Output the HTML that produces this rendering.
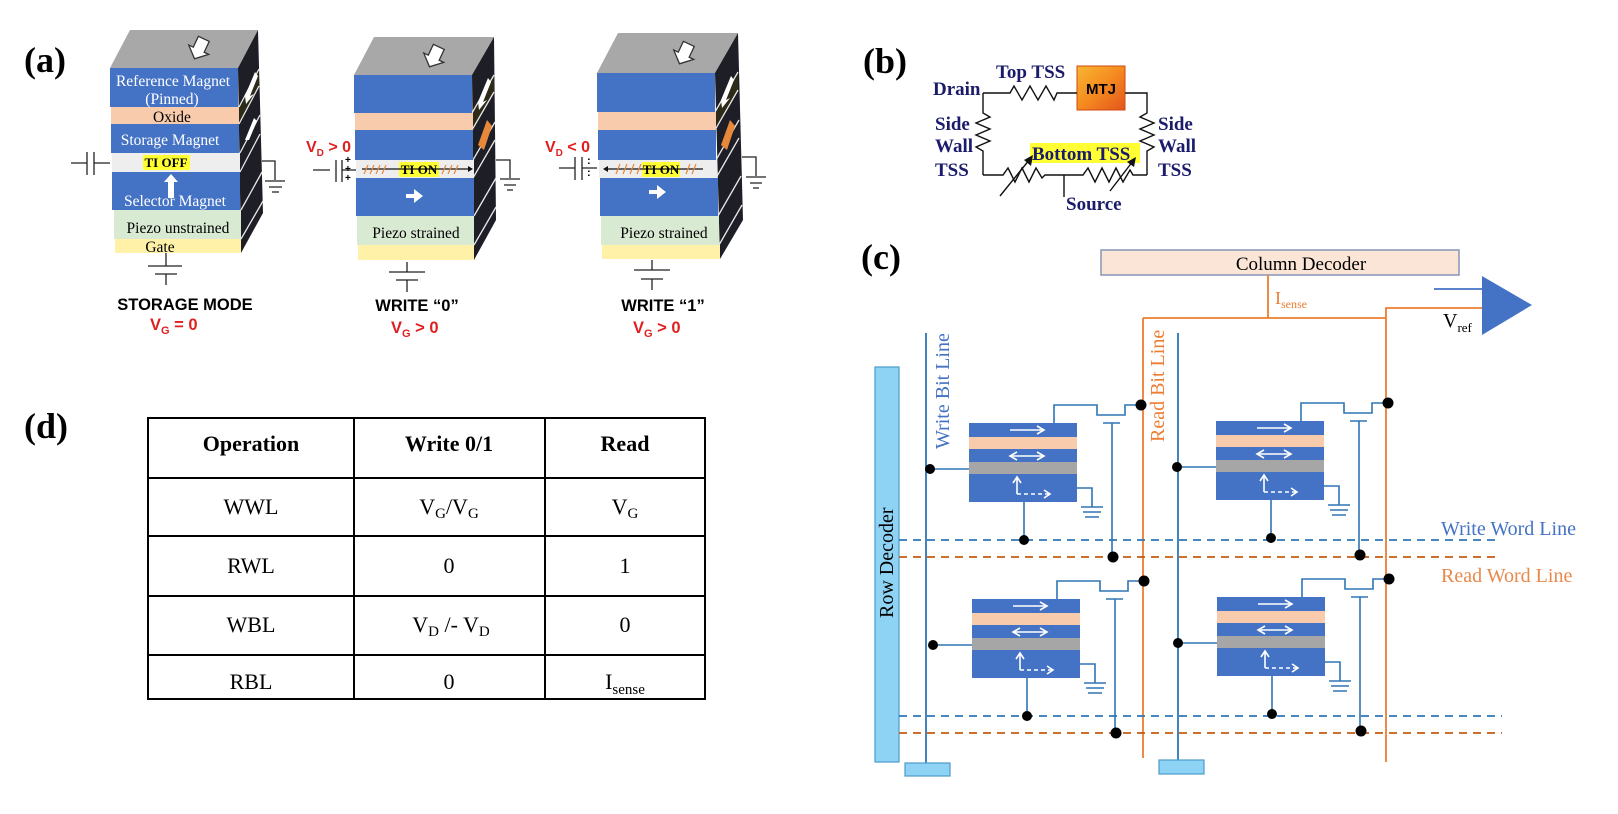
<!DOCTYPE html>
<html><head><meta charset="utf-8"><style>
html,body{margin:0;padding:0;background:#fff;}
svg{display:block;}
.sr{font-family:"Liberation Serif",serif;}
.ss{font-family:"Liberation Sans",sans-serif;}
</style></head><body>
<svg width="1618" height="814" viewBox="0 0 1618 814" xmlns="http://www.w3.org/2000/svg">
<defs>
<g id="harrow"><path d="M-6,-9 L6,-9 L6,3 L11,3 L0,13 L-11,3 L-6,3 Z" fill="#fff" stroke="#333" stroke-width="1.3"/></g>
<linearGradient id="mtj" x1="0" y1="0" x2="1" y2="1"><stop offset="0" stop-color="#f7b733"/><stop offset="0.5" stop-color="#f58a1f"/><stop offset="1" stop-color="#e2551c"/></linearGradient>
<g id="cell">
 <rect x="969" y="423" width="108" height="14" fill="#4472c4"/>
 <rect x="969" y="437" width="108" height="12" fill="#f8cbad"/>
 <rect x="969" y="449" width="108" height="13" fill="#4472c4"/>
 <rect x="969" y="462" width="108" height="12" fill="#a6a6a6"/>
 <rect x="969" y="474" width="108" height="28" fill="#4472c4"/>
 <g stroke="#fff" stroke-width="1.6" fill="none">
  <path d="M1010,430 H1044 M1037,426 L1044,430 L1037,434"/>
  <path d="M1010,456 H1044 M1037,452 L1044,456 L1037,460 M1017,452 L1010,456 L1017,460"/>
  <path d="M1017,494 V478 M1013,483 L1017,477 L1021,483"/>
  <path d="M1017,494 H1050" stroke-dasharray="4,3"/>
  <path d="M1044,490 L1050,494 L1044,498"/>
 </g>
 <g stroke="#2e75b6" stroke-width="1.6" fill="none">
  <path d="M930,469 H969"/>
  <path d="M1054,423 V405 H1097 V415 H1125 V405 H1141"/>
  <path d="M1103,423 H1120 M1112,423 V557"/>
  <path d="M1024,502 V540"/>
  <path d="M1077,488 H1092 V507 M1081,507 H1103 M1083,512 H1101 M1085,517 H1099"/>
 </g>
 <circle cx="930" cy="469" r="5" fill="#000"/>
 <circle cx="1141" cy="405" r="5.5" fill="#000"/>
 <circle cx="1024" cy="540" r="5" fill="#000"/>
 <circle cx="1113" cy="557" r="5.5" fill="#000"/>
</g>
</defs>

<!-- ===== Panel (a) ===== -->
<text x="24" y="72" class="sr" font-size="36" font-weight="bold">(a)</text>

<!-- Stack 1 -->
<polygon points="110,68 130,30 258,30 238,68" fill="#a8a8a8"/>
<use href="#harrow" transform="translate(200,47) rotate(25)"/>
<polygon points="238,68 258,30 263,213 241,253" fill="#1d1e26"/>
<polygon points="239,107 259,69 259,86 239,124" fill="#2d2a18"/>
<g stroke="#e8e8e8" stroke-width="1.3"><path d="M239,107 L259,69 M239,124 L259,86 M240,153 L260,115 M240,172 L260,134 M241,210 L262,172 M241,239 L263,201"/></g>
<path d="M245,96 L255,72 L258,76 L250,96 L254,94 L246,104 Z" fill="#fff"/>
<path d="M245,140 L254,118 L257,121 L249,140 Z" fill="#fff"/>
<rect x="110" y="68" width="128" height="39" fill="#4472c4"/>
<rect x="111" y="107" width="128" height="17" fill="#f8cbad"/>
<rect x="111" y="124" width="128" height="29" fill="#4472c4"/>
<rect x="112" y="153" width="128" height="19" fill="#eeeeee"/>
<rect x="112" y="172" width="128" height="38" fill="#4472c4"/>
<rect x="114" y="210" width="127" height="29" fill="#d9ead3"/>
<rect x="115" y="239" width="126" height="14" fill="#fff2a8"/>
<text x="173" y="86" class="sr" font-size="15.5" fill="#fff" text-anchor="middle">Reference Magnet</text>
<text x="172" y="104" class="sr" font-size="15.5" fill="#fff" text-anchor="middle">(Pinned)</text>
<text x="172" y="122" class="sr" font-size="15.5" fill="#000" text-anchor="middle">Oxide</text>
<text x="170" y="145" class="sr" font-size="15.5" fill="#fff" text-anchor="middle">Storage Magnet</text>
<rect x="143" y="155" width="47" height="15" fill="#ffff33"/>
<text x="166" y="167" class="sr" font-size="13" font-weight="bold" text-anchor="middle">TI OFF</text>
<path d="M168,198 V182 H164 L171,174 L178,182 H174 V198 Z" fill="#fff"/>
<text x="175" y="206" class="sr" font-size="15.5" fill="#fff" text-anchor="middle">Selector Magnet</text>
<text x="178" y="233" class="sr" font-size="15.5" text-anchor="middle">Piezo unstrained</text>
<text x="160" y="252" class="sr" font-size="15.5" text-anchor="middle">Gate</text>
<g stroke="#222" stroke-width="1.3" fill="none">
 <path d="M71,163 H87 M87,152 V175 M94,152 V175 M94,163 H110"/>
 <path d="M262,161 H275 V180 M265,181 H285 M269,187 H282 M272,192 H279"/>
 <path d="M166,253 V266 M148,266 H182 M155,274 H177 M166,274 V285"/>
</g>
<text x="185" y="310" class="ss" font-size="16.5" font-weight="bold" text-anchor="middle">STORAGE MODE</text>
<text x="150" y="330" class="ss" font-size="16.5" font-weight="bold" fill="#e02020">V<tspan font-size="11" dy="4">G</tspan><tspan dy="-4"> = 0</tspan></text>

<!-- Stack 2 -->
<polygon points="354,75 374,37 494,37 472,75" fill="#a8a8a8"/>
<use href="#harrow" transform="translate(435,55) rotate(25)"/>
<polygon points="472,75 494,37 496,220 474,260" fill="#1d1e26"/>
<polygon points="472,113 494,75 494,92 472,130" fill="#2d2a18"/>
<g stroke="#e8e8e8" stroke-width="1.3"><path d="M472,113 L494,75 M472,130 L494,92 M473,160 L495,122 M473,178 L495,140 M474,216 L496,178 M474,245 L496,207"/></g>
<path d="M478,102 L488,78 L491,82 L483,102 L487,100 L479,110 Z" fill="#fff"/>
<rect x="354" y="75" width="118" height="38" fill="#4472c4"/>
<rect x="355" y="113" width="118" height="17" fill="#f8cbad"/>
<rect x="355" y="130" width="118" height="30" fill="#4472c4"/>
<rect x="356" y="160" width="118" height="18" fill="#eeeeee"/>
<rect x="356" y="178" width="118" height="38" fill="#4472c4"/>
<rect x="357" y="216" width="117" height="29" fill="#d9ead3"/>
<rect x="358" y="245" width="116" height="15" fill="#fff2a8"/>
<rect x="399" y="162" width="40" height="15" fill="#ffff33"/>
<path d="M362,169 H468" stroke="#111" stroke-width="1.2"/><path d="M468,166 L473,169 L468,172 Z" fill="#111"/>
<g stroke="#e8883a" stroke-width="1.2"><path d="M368,165 L364,174 M374,165 L370,174 M380,165 L376,174 M386,165 L382,174 M446,165 L442,174 M452,165 L448,174 M458,165 L454,174"/></g>
<text x="419" y="174" class="sr" font-size="13" font-weight="bold" text-anchor="middle">TI ON</text>
<path d="M406,194 H414 V189 L423,196 L414,203 V198 H406 Z" fill="#fff"/>
<text x="416" y="238" class="sr" font-size="15.5" text-anchor="middle">Piezo strained</text>
<path d="M478,145 L487,120 L492,126 L484,150 Z" fill="#e8883a"/>
<text x="306" y="152" class="ss" font-size="16" font-weight="bold" fill="#e02020">V<tspan font-size="10" dy="4">D</tspan><tspan dy="-4"> &gt; 0</tspan></text>
<g stroke="#222" stroke-width="1.3" fill="none">
 <path d="M313,170 H330 M336,160 V182 M342,160 V182 M342,170 H356"/>
 <path d="M496,160 H510 V178 M500,179 H520 M504,185 H516 M507,190 H513"/>
 <path d="M407,262 V272 M389,272 H425 M396,280 H418 M407,280 V292"/>
</g>
<text x="345" y="163" class="ss" font-size="10" font-weight="bold">+</text>
<text x="345" y="172" class="ss" font-size="10" font-weight="bold">+</text>
<text x="345" y="181" class="ss" font-size="10" font-weight="bold">+</text>
<text x="417" y="311" class="ss" font-size="16.5" font-weight="bold" text-anchor="middle">WRITE “0”</text>
<text x="391" y="333" class="ss" font-size="16.5" font-weight="bold" fill="#e02020">V<tspan font-size="11" dy="4">G</tspan><tspan dy="-4"> &gt; 0</tspan></text>

<!-- Stack 3 -->
<polygon points="597,73 618,33 738,33 715,73" fill="#a8a8a8"/>
<use href="#harrow" transform="translate(685,52) rotate(25)"/>
<polygon points="715,73 738,33 743,220 720,259" fill="#1d1e26"/>
<polygon points="715,112 738,72 738,90 715,130" fill="#2d2a18"/>
<g stroke="#e8e8e8" stroke-width="1.3"><path d="M715,112 L738,72 M715,130 L738,90 M716,160 L739,120 M716,178 L739,138 M718,216 L741,176 M719,245 L742,205"/></g>
<path d="M721,100 L731,76 L734,80 L726,100 L730,98 L722,108 Z" fill="#fff"/>
<rect x="597" y="73" width="118" height="39" fill="#4472c4"/>
<rect x="598" y="112" width="118" height="18" fill="#f8cbad"/>
<rect x="598" y="130" width="118" height="30" fill="#4472c4"/>
<rect x="599" y="160" width="118" height="18" fill="#eeeeee"/>
<rect x="600" y="178" width="118" height="38" fill="#4472c4"/>
<rect x="601" y="216" width="118" height="29" fill="#d9ead3"/>
<rect x="602" y="245" width="118" height="14" fill="#fff2a8"/>
<rect x="642" y="162" width="38" height="15" fill="#ffff33"/>
<path d="M608,169 H703" stroke="#111" stroke-width="1.2"/><path d="M608,166 L603,169 L608,172 Z" fill="#111"/>
<g stroke="#e8883a" stroke-width="1.2"><path d="M616,174 L620,164 M623,174 L627,164 M630,174 L634,164 M637,174 L641,164 M686,174 L690,164 M692,174 L696,164"/></g>
<text x="661" y="174" class="sr" font-size="13" font-weight="bold" text-anchor="middle">TI ON</text>
<path d="M649,190 H657 V185 L666,192 L657,199 V194 H649 Z" fill="#fff"/>
<text x="664" y="238" class="sr" font-size="15.5" text-anchor="middle">Piezo strained</text>
<path d="M721,145 L730,120 L735,126 L727,150 Z" fill="#e8883a"/>
<text x="545" y="152" class="ss" font-size="16" font-weight="bold" fill="#e02020">V<tspan font-size="10" dy="4">D</tspan><tspan dy="-4"> &lt; 0</tspan></text>
<g stroke="#222" stroke-width="1.3" fill="none">
 <path d="M559,168 H575 M575,157 V180 M582,157 V180 M582,168 H597"/>
 <path d="M742,157 H756 V176 M746,177 H766 M750,183 H762 M753,188 H759"/>
 <path d="M652,260 V270 M634,270 H670 M641,279 H663 M652,279 V290"/>
</g>
<text x="587" y="164" class="ss" font-size="11" font-weight="bold">:</text>
<text x="587" y="176" class="ss" font-size="11" font-weight="bold">:</text>
<text x="663" y="311" class="ss" font-size="16.5" font-weight="bold" text-anchor="middle">WRITE “1”</text>
<text x="633" y="333" class="ss" font-size="16.5" font-weight="bold" fill="#e02020">V<tspan font-size="11" dy="4">G</tspan><tspan dy="-4"> &gt; 0</tspan></text>

<!-- ===== Panel (b) ===== -->
<text x="863" y="73" class="sr" font-size="36" font-weight="bold">(b)</text>
<g class="sr" font-size="19" font-weight="bold" fill="#1b1b6b">
 <text x="933" y="95">Drain</text>
 <text x="996" y="78">Top TSS</text>
 <text x="935" y="130">Side</text><text x="935" y="152">Wall</text><text x="935" y="176">TSS</text>
 <text x="1158" y="130">Side</text><text x="1158" y="152">Wall</text><text x="1158" y="176">TSS</text>
 <text x="1066" y="210">Source</text>
</g>
<rect x="1030" y="143" width="110" height="20" fill="#ffff33"/>
<text x="1032" y="160" class="sr" font-size="19" font-weight="bold" fill="#1b1b6b">Bottom  TSS</text>
<rect x="1077" y="66" width="48" height="44" fill="url(#mtj)" stroke="#d04a10"/>
<text x="1101" y="94" class="ss" font-size="15" font-weight="bold" text-anchor="middle">MTJ</text>
<g stroke="#111" stroke-width="1.4" fill="none">
 <path d="M983,93 H1010 L1014,86 L1022,100 L1030,86 L1038,100 L1046,86 L1054,100 L1057,93 H1077"/>
 <path d="M1125,93 H1147 V113 L1140,117 L1154,123 L1140,129 L1154,135 L1140,141 L1154,147 L1147,151 V175"/>
 <path d="M983,93 V113 L990,117 L976,123 L990,129 L976,135 L990,141 L976,147 L983,151 V175"/>
 <path d="M983,175 H1003 L1008,168 L1015,182 L1022,168 L1029,182 L1036,168 L1042,178 L1045,175 H1083 L1088,168 L1095,182 L1102,168 L1109,182 L1116,168 L1123,182 L1130,170 L1133,175 H1147"/>
 <path d="M1064,175 V197"/>
 <path d="M1000,196 L1030,159 M1110,191 L1133,161"/>
</g>
<path d="M1033,155 L1024,160 L1031,166 Z" fill="#111"/>
<path d="M1136,157 L1127,162 L1134,167 Z" fill="#111"/>

<!-- ===== Panel (c) ===== -->
<text x="861" y="269" class="sr" font-size="36" font-weight="bold">(c)</text>
<rect x="1101" y="250" width="358" height="25" fill="#fbe5d6" stroke="#8a94b8" stroke-width="1.5"/>
<text x="1301" y="270" class="sr" font-size="19" text-anchor="middle">Column Decoder</text>
<g stroke="#ed7d31" stroke-width="1.8" fill="none">
 <path d="M1268,275 V318"/>
 <path d="M1143,318 H1386"/>
 <path d="M1386,762 V308 H1482"/>
 <path d="M1143,318 V758"/>
</g>
<text x="1275" y="304" class="sr" font-size="18" fill="#ed7d31">I<tspan font-size="12" dy="4">sense</tspan></text>
<polygon points="1482,276 1482,335 1532,305" fill="#4472c4"/>
<path d="M1434,289 H1482" stroke="#4472c4" stroke-width="1.8"/>
<text x="1443" y="327" class="sr" font-size="20">V<tspan font-size="13" dy="5">ref</tspan></text>
<g stroke="#2e75b6" stroke-width="1.8" fill="none">
 <path d="M926,333 V763"/>
 <path d="M1178,333 V760"/>
</g>
<text transform="translate(949,449) rotate(-90)" class="sr" font-size="20" fill="#4472c4">Write Bit Line</text>
<text transform="translate(1164,442) rotate(-90)" class="sr" font-size="20" fill="#ed7d31">Read Bit Line</text>
<rect x="875" y="367" width="24" height="395" fill="#8fd3f4" stroke="#4a9ccc" stroke-width="1.2"/>
<text transform="translate(893,618) rotate(-90)" class="sr" font-size="20">Row Decoder</text>
<rect x="905" y="763" width="45" height="13" fill="#8fd3f4" stroke="#4a9ccc" stroke-width="1.2"/>
<rect x="1159" y="760" width="45" height="14" fill="#8fd3f4" stroke="#4a9ccc" stroke-width="1.2"/>
<g stroke-width="1.8" stroke-dasharray="8,6" fill="none">
 <path d="M899,540 H1500" stroke="#2e75b6"/>
 <path d="M899,557 H1500" stroke="#c55a11"/>
 <path d="M899,716 H1502" stroke="#2e75b6"/>
 <path d="M899,733 H1502" stroke="#c55a11"/>
</g>
<text x="1441" y="535" class="sr" font-size="20" fill="#4472c4">Write Word Line</text>
<text x="1441" y="582" class="sr" font-size="20" fill="#e8894a">Read Word Line</text>
<use href="#cell"/>
<use href="#cell" transform="translate(247,-2)"/>
<use href="#cell" transform="translate(3,176)"/>
<use href="#cell" transform="translate(248,174)"/>

<!-- ===== Panel (d) ===== -->
<text x="24" y="438" class="sr" font-size="36" font-weight="bold">(d)</text>
<g stroke="#000" stroke-width="2" fill="none">
 <rect x="148" y="418" width="557" height="281"/>
 <path d="M354,418 V699 M545,418 V699 M148,478 H705 M148,536 H705 M148,596 H705 M148,655 H705"/>
</g>
<g class="sr" font-size="22" text-anchor="middle">
 <text x="251" y="451" font-weight="bold">Operation</text>
 <text x="449" y="451" font-weight="bold">Write 0/1</text>
 <text x="625" y="451" font-weight="bold">Read</text>
 <text x="251" y="514">WWL</text>
 <text x="449" y="514">V<tspan font-size="15" dy="4">G</tspan><tspan dy="-4">/V</tspan><tspan font-size="15" dy="4">G</tspan></text>
 <text x="625" y="514">V<tspan font-size="15" dy="4">G</tspan></text>
 <text x="251" y="573">RWL</text>
 <text x="449" y="573">0</text>
 <text x="625" y="573">1</text>
 <text x="251" y="632">WBL</text>
 <text x="451" y="632">V<tspan font-size="15" dy="4">D</tspan><tspan dy="-4"> /- V</tspan><tspan font-size="15" dy="4">D</tspan></text>
 <text x="625" y="632">0</text>
 <text x="251" y="689">RBL</text>
 <text x="449" y="689">0</text>
 <text x="625" y="689">I<tspan font-size="15" dy="5">sense</tspan></text>
</g>
</svg>
</body></html>
